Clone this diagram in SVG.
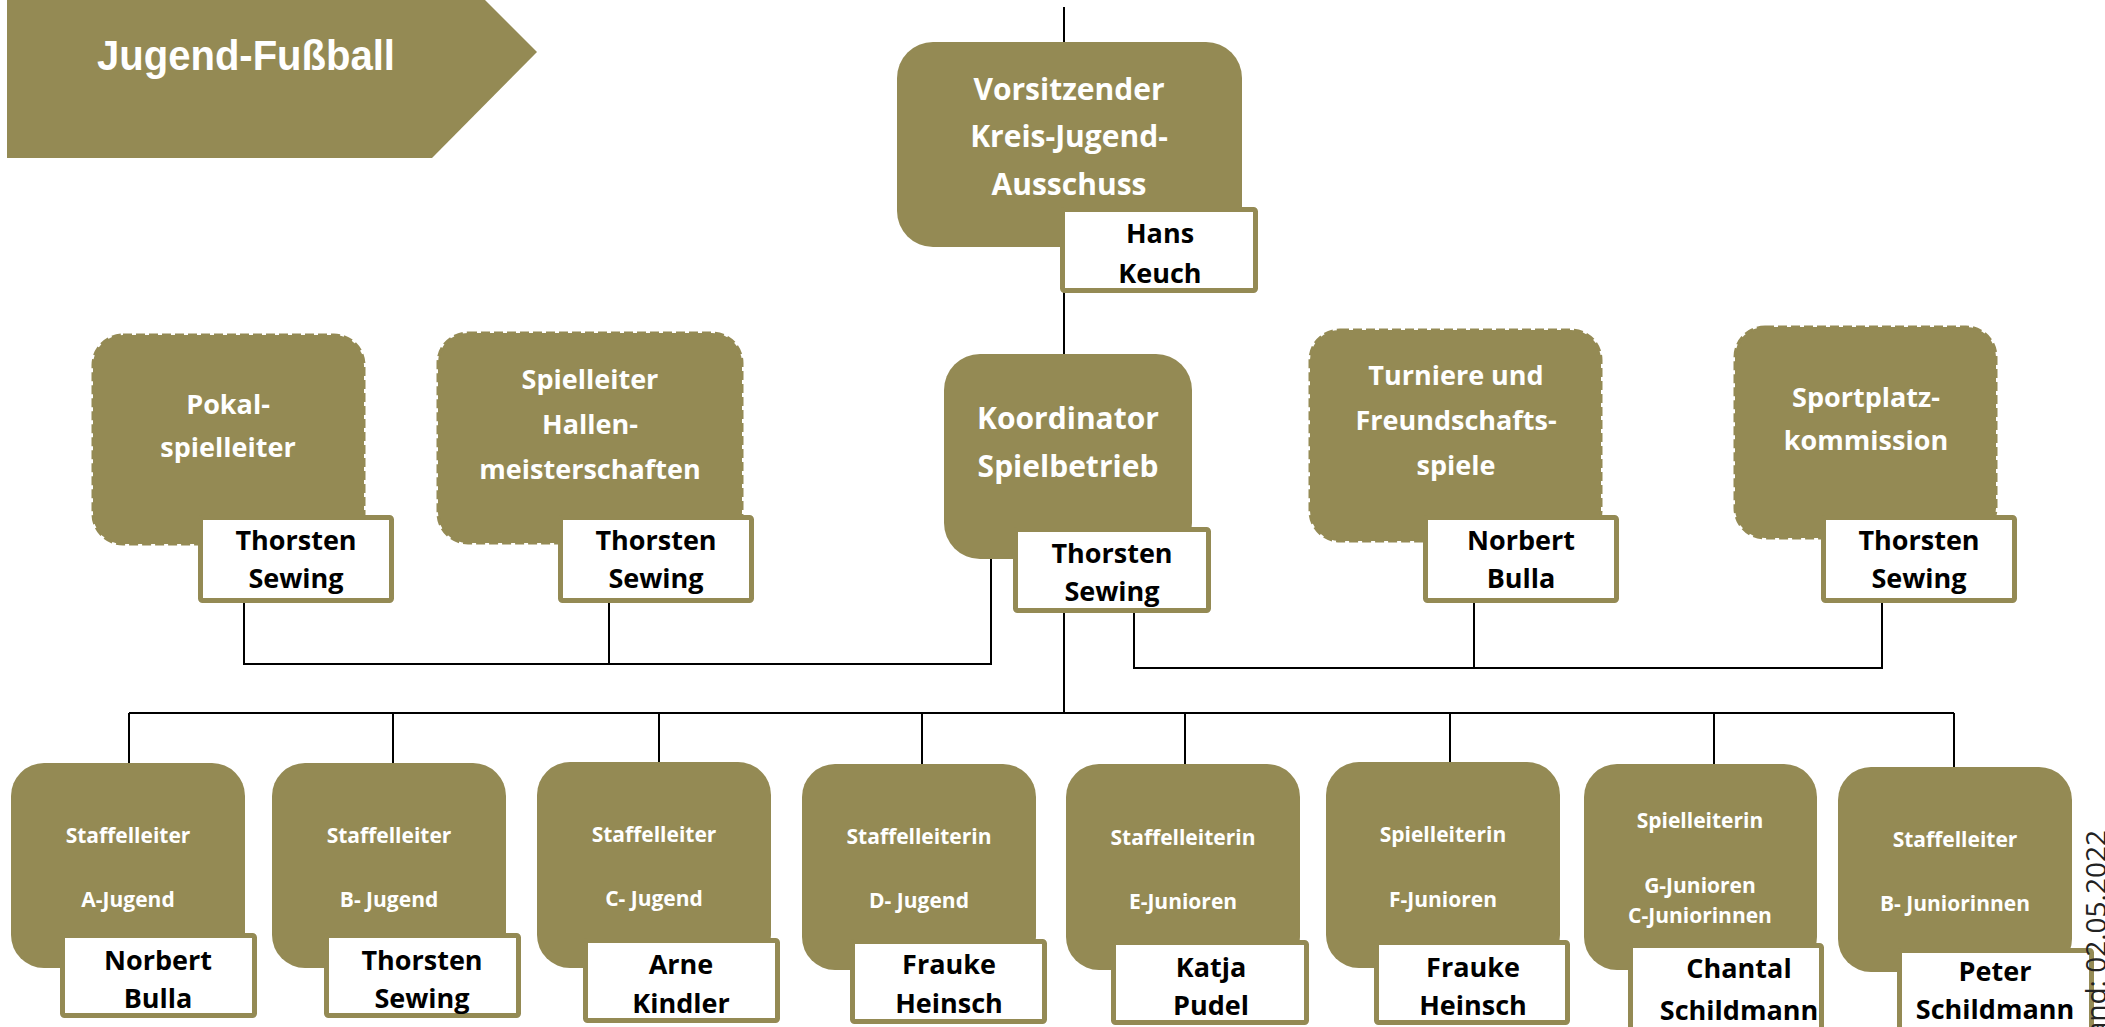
<svg xmlns="http://www.w3.org/2000/svg" width="2105" height="1027" viewBox="0 0 2105 1027">
<style>
.box{fill:#948A54}
.dbox{fill:#948A54;stroke:#948A54;stroke-width:3;stroke-dasharray:9 4}
.nbox{fill:#fff;stroke:#948A54;stroke-width:5}
.t{font-family:"Open Sans","Noto Sans","DejaVu Sans",sans-serif;font-weight:700;fill:#fff;text-anchor:middle}
.t1{font-size:30px}
.t2{font-size:27px}
.t3{font-size:21px}
.n{fill:#000;font-size:27px}
.ln{stroke:#000;stroke-width:2;fill:none}
</style>
<rect width="2105" height="1027" fill="#fff"/>
<g id="title">
<polygon points="7,-53 432,-53 537,52 432,158 7,158" fill="#948A54"/>
<text x="97" y="70" font-family="Liberation Sans, Arial, sans-serif" font-weight="700" font-size="42" fill="#fff" textLength="298" lengthAdjust="spacingAndGlyphs">Jugend-Fußball</text>
</g>
<g id="connectors">
<path class="ln" d="M1064,7 V713"/>
<path class="ln" d="M991,559 V664 H244 V603 M609,603 V664"/>
<path class="ln" d="M1134,613 V668 H1882 V603 M1474,603 V668"/>
<path class="ln" d="M129,713 H1954 M129,713 V763 M393,713 V763 M659,713 V762 M922,713 V764 M1185,713 V764 M1450,713 V762 M1714,713 V764 M1954,713 V767"/>
</g>
<g id="vorsitzender">
<rect class="box" x="897" y="42" width="345" height="205" rx="36"/>
<text class="t t1" x="1069" y="100">Vorsitzender</text>
<text class="t t1" x="1069" y="147">Kreis-Jugend-</text>
<text class="t t1" x="1069" y="195">Ausschuss</text>
<rect class="nbox" x="1062.5" y="209.5" width="193" height="81" rx="2"/>
<text class="t n" x="1160" y="243">Hans</text>
<text class="t n" x="1160" y="283">Keuch</text>
</g>
<g id="koordinator">
<rect class="box" x="944" y="354" width="248" height="205" rx="36"/>
<text class="t t1" x="1068" y="429">Koordinator</text>
<text class="t t1" x="1068" y="477">Spielbetrieb</text>
<rect class="nbox" x="1015.5" y="529.5" width="193" height="81" rx="2"/>
<text class="t n" x="1112" y="563">Thorsten</text>
<text class="t n" x="1112" y="601">Sewing</text>
</g>
<g id="pokal">
<rect class="dbox" x="93" y="335" width="271" height="209" rx="30"/>
<text class="t t2" x="228" y="414">Pokal-</text>
<text class="t t2" x="228" y="457">spielleiter</text>
<rect class="nbox" x="200.5" y="517.5" width="191" height="83" rx="2"/>
<text class="t n" x="296" y="550">Thorsten</text>
<text class="t n" x="296" y="588">Sewing</text>
</g>
<g id="hallen">
<rect class="dbox" x="438" y="333" width="304" height="210" rx="30"/>
<text class="t t2" x="590" y="389">Spielleiter</text>
<text class="t t2" x="590" y="434">Hallen-</text>
<text class="t t2" x="590" y="479">meisterschaften</text>
<rect class="nbox" x="560.5" y="517.5" width="191" height="83" rx="2"/>
<text class="t n" x="656" y="550">Thorsten</text>
<text class="t n" x="656" y="588">Sewing</text>
</g>
<g id="turniere">
<rect class="dbox" x="1310" y="330" width="291" height="211" rx="30"/>
<text class="t t2" x="1456" y="385">Turniere und</text>
<text class="t t2" x="1456" y="430">Freundschafts-</text>
<text class="t t2" x="1456" y="475">spiele</text>
<rect class="nbox" x="1425.5" y="517.5" width="191" height="83" rx="2"/>
<text class="t n" x="1521" y="550">Norbert</text>
<text class="t n" x="1521" y="588">Bulla</text>
</g>
<g id="sportplatz">
<rect class="dbox" x="1735" y="327" width="261" height="211" rx="30"/>
<text class="t t2" x="1866" y="407">Sportplatz-</text>
<text class="t t2" x="1866" y="450">kommission</text>
<rect class="nbox" x="1823.5" y="517.5" width="191" height="83" rx="2"/>
<text class="t n" x="1919" y="550">Thorsten</text>
<text class="t n" x="1919" y="588">Sewing</text>
</g>
<g id="a-jugend">
<rect class="box" x="11" y="763" width="234" height="205" rx="33"/>
<text class="t t3" x="128" y="843">Staffelleiter</text>
<text class="t t3" x="128" y="907">A-Jugend</text>
<rect class="nbox" x="62.5" y="935.5" width="192" height="80" rx="2"/>
<text class="t n" x="158" y="970">Norbert</text>
<text class="t n" x="158" y="1008">Bulla</text>
</g>
<g id="b-jugend">
<rect class="box" x="272" y="763" width="234" height="205" rx="33"/>
<text class="t t3" x="389" y="843">Staffelleiter</text>
<text class="t t3" x="389" y="907">B- Jugend</text>
<rect class="nbox" x="326.5" y="935.5" width="192" height="80" rx="2"/>
<text class="t n" x="422" y="970">Thorsten</text>
<text class="t n" x="422" y="1008">Sewing</text>
</g>
<g id="c-jugend">
<rect class="box" x="537" y="762" width="234" height="206" rx="33"/>
<text class="t t3" x="654" y="842">Staffelleiter</text>
<text class="t t3" x="654" y="906">C- Jugend</text>
<rect class="nbox" x="585.5" y="940.5" width="192" height="80" rx="2"/>
<text class="t n" x="681" y="974">Arne</text>
<text class="t n" x="681" y="1013">Kindler</text>
</g>
<g id="d-jugend">
<rect class="box" x="802" y="764" width="234" height="206" rx="33"/>
<text class="t t3" x="919" y="844">Staffelleiterin</text>
<text class="t t3" x="919" y="908">D- Jugend</text>
<rect class="nbox" x="852.5" y="941.5" width="192" height="80" rx="2"/>
<text class="t n" x="949" y="974">Frauke</text>
<text class="t n" x="949" y="1013">Heinsch</text>
</g>
<g id="e-junioren">
<rect class="box" x="1066" y="764" width="234" height="206" rx="33"/>
<text class="t t3" x="1183" y="845">Staffelleiterin</text>
<text class="t t3" x="1183" y="909">E-Junioren</text>
<rect class="nbox" x="1113.5" y="942.5" width="193" height="80" rx="2"/>
<text class="t n" x="1211" y="977">Katja</text>
<text class="t n" x="1211" y="1015">Pudel</text>
</g>
<g id="f-junioren">
<rect class="box" x="1326" y="762" width="234" height="206" rx="33"/>
<text class="t t3" x="1443" y="842">Spielleiterin</text>
<text class="t t3" x="1443" y="907">F-Junioren</text>
<rect class="nbox" x="1376.5" y="942.5" width="191" height="80" rx="2"/>
<text class="t n" x="1473" y="977">Frauke</text>
<text class="t n" x="1473" y="1015">Heinsch</text>
</g>
<g id="g-junioren">
<rect class="box" x="1584" y="764" width="233" height="206" rx="33"/>
<text class="t t3" x="1700" y="828">Spielleiterin</text>
<text class="t t3" x="1700" y="893">G-Junioren</text>
<text class="t t3" x="1700" y="923">C-Juniorinnen</text>
<rect class="nbox" x="1630.5" y="945.5" width="191" height="90" rx="2"/>
<text class="t n" x="1739" y="978">Chantal</text>
<text class="t n" x="1739" y="1020">Schildmann</text>
</g>
<g id="b-juniorinnen">
<rect class="box" x="1838" y="767" width="234" height="205" rx="33"/>
<text class="t t3" x="1955" y="847">Staffelleiter</text>
<text class="t t3" x="1955" y="911">B- Juniorinnen</text>
<rect class="nbox" x="1899.5" y="950.5" width="192" height="90" rx="2"/>
<text class="t n" x="1995" y="981">Peter</text>
<text class="t n" x="1995" y="1019">Schildmann</text>
</g>
<text transform="translate(2106,830) rotate(-90)" text-anchor="end" font-family="Open Sans, Noto Sans, sans-serif" font-size="28" fill="#222">Stand: 02.05.2022</text>
</svg>
